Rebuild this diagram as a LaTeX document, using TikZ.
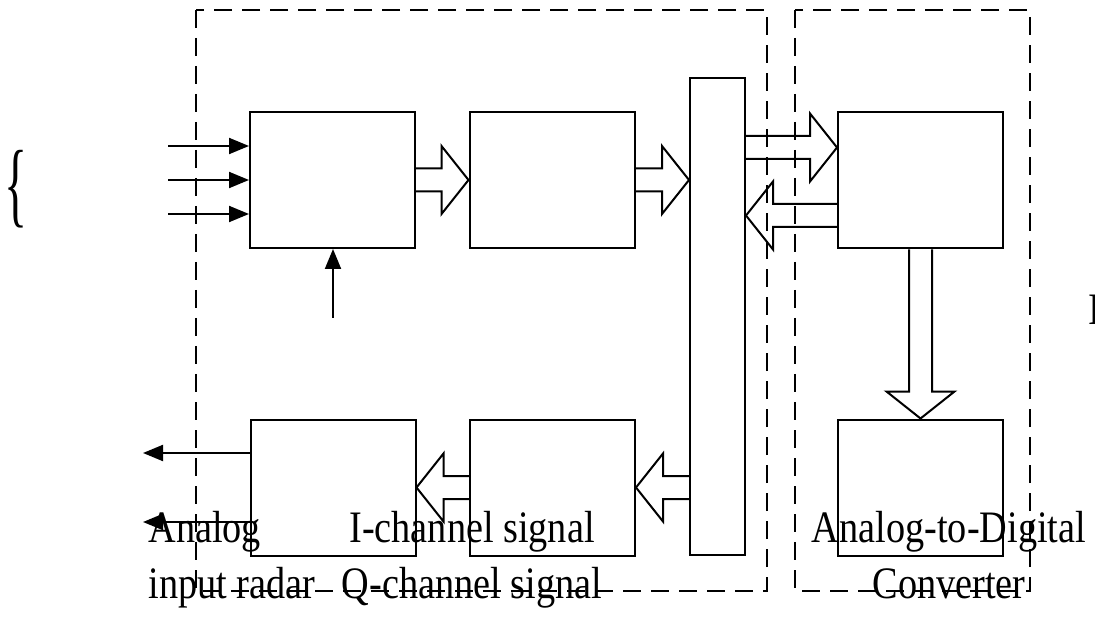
\documentclass[tikz,border=0pt]{standalone}
\usepackage{fontspec}
\usetikzlibrary{arrows.meta,calc}
\newfontfamily\labelfont{Liberation Serif}[FakeStretch=0.85]

% Hollow block arrow from #1 to #2
\newcommand{\hollowarrow}[2]{%
  \path (#2) coordinate (tip) ($(#2)!13.5pt!(#1)$) coordinate (hb);
  \draw[hollow] ($(#1)!5.75pt!90:(#2)$) -- ($(hb)!5.75pt!-90:(#1)$) -- ($(hb)!17pt!-90:(#1)$)
    -- (tip) -- ($(hb)!17pt!90:(#1)$) -- ($(hb)!5.75pt!90:(#1)$) -- ($(#1)!5.75pt!-90:(#2)$);}

\begin{document}
\begin{tikzpicture}[x=0.5pt, y=-0.5pt,
    block/.style={draw=borderColour, line width=1pt, minimum width=82.5pt, minimum height=68pt, inner sep=0pt},
    bus/.style={block, minimum width=27.5pt, minimum height=238.5pt},
    group/.style={draw=borderColour, line width=1pt, dash pattern=on 9pt off 5pt},
    sig/.style={line width=1pt, -{Triangle[length=10pt,width=8pt]}},
    hollow/.style={draw=borderColour, line width=1pt, line join=miter},
    caption/.style={font=\labelfont\fontsize{22.5}{28}\selectfont, inner sep=0pt}]

    \definecolor{borderColour}{HTML}{000000}

    \useasboundingbox (0,0) rectangle (1095,619);

    % Dashed groups
    \draw[group] (196,10) rectangle (767,591);
    \draw[group] (795,10) rectangle (1030,591);

    % Blocks
    \node[block] (mix) at (332.5,180) {};
    \node[block] (filt) at (552,180) {};
    \node[bus] (bus) at (717.5,316.5) {};
    \node[block] (adc) at (920.5,180.5) {};
    \node[block] (mem) at (920.5,487.5) {};
    \node[block] (drv) at (552.5,487.5) {};
    \node[block] (outp) at (333,487.5) {};

    % Inputs
    \foreach \i/\dy in {1/-34,2/0,3/34} {
        \coordinate (in\i) at (168,180+\dy);
        \draw[sig] (in\i) -- (mix.west |- in\i);
    }
    \coordinate (ctl) at (333,318);
    \draw[sig] (ctl) -- (ctl |- mix.south);

    % Outputs
    \coordinate (out1) at (143,453);
    \coordinate (out2) at (143,522);
    \draw[sig] (outp.west |- out1) -- (out1);
    \draw[sig] (outp.west |- out2) -- (out2);

    % Data flow
    \coordinate (adcin) at ([yshift=16.5pt]adc.west);
    \coordinate (adcout) at ([yshift=-17.5pt]adc.west);
    \hollowarrow{mix.east}{filt.west}
    \hollowarrow{filt.east}{bus.west |- filt.east}
    \hollowarrow{bus.east |- adcin}{adcin}
    \hollowarrow{adcout}{bus.east |- adcout}
    \hollowarrow{adc.south}{mem.north}
    \hollowarrow{bus.west |- drv.east}{drv.east}
    \hollowarrow{drv.west}{outp.east}

    % Labels
    \node[caption, anchor=base west, align=left] (lblin) at (148,598) {Analog\\input radar};
    \node[caption, anchor=base, align=center] (lbliq) at (472,598) {I-channel signal\\Q-channel signal};
    \node[caption, anchor=base, align=center] (lbladc) at (949,598) {Analog-to-Digital\\Converter};
    \node[caption, anchor=base west] (lbledge) at (1088,325) {I};
    \node[caption, font=\labelfont\fontsize{47}{47}\selectfont] (brace) at (16,189) {\scalebox{0.6}[1]{\{}};

\end{tikzpicture}
\end{document}
